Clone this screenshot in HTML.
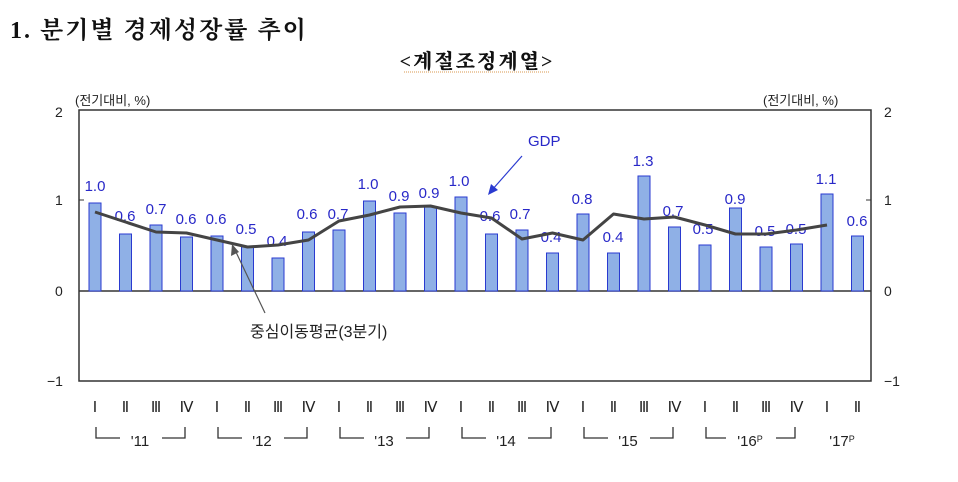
<!DOCTYPE html>
<html><head><meta charset="utf-8"><style>
body{margin:0;background:#fff;width:958px;height:482px;overflow:hidden}
svg{display:block}
.lb{font-family:"Liberation Sans","Noto Sans CJK KR",sans-serif;font-size:15px;fill:#2828c8;text-anchor:middle}
.tk{font-family:"Liberation Sans",sans-serif;font-size:14px;fill:#222}
.rn{font-family:"Liberation Serif",serif;font-size:15px;fill:#222;text-anchor:middle}
.yr{font-family:"Liberation Sans",sans-serif;font-size:15px;fill:#222;text-anchor:middle}
.kr{font-family:"Liberation Sans","Noto Sans CJK KR",sans-serif;fill:#222}
</style></head><body>
<svg width="958" height="482" viewBox="0 0 958 482" xmlns="http://www.w3.org/2000/svg">
<text x="10" y="38" font-family="'Liberation Serif','Noto Serif CJK SC',serif" font-weight="bold" font-size="24" letter-spacing="2" fill="#111">1. 분기별 경제성장률 추이</text>
<text x="477" y="68" text-anchor="middle" font-family="'Liberation Serif','Noto Serif CJK SC',serif" font-weight="900" font-size="20" letter-spacing="2" fill="#111">&lt;계절조정계열&gt;</text>
<line x1="404" y1="72" x2="550" y2="72" stroke="#d89a50" stroke-width="1" stroke-dasharray="1,1"/>
<text class="kr" x="75" y="105" font-size="13">(전기대비, %)</text>
<text class="kr" x="763" y="105" font-size="13">(전기대비, %)</text>
<rect x="79" y="110" width="792" height="271" fill="none" stroke="#333" stroke-width="1.5"/>
<line x1="79" y1="291" x2="871" y2="291" stroke="#333" stroke-width="1.5"/>
<line x1="79" y1="200" x2="84" y2="200" stroke="#333"/><line x1="866" y1="200" x2="871" y2="200" stroke="#333"/>
<text class="tk" x="55" y="117">2</text><text class="tk" x="55" y="205">1</text><text class="tk" x="55" y="296">0</text><text class="tk" x="47" y="386">−1</text>
<text class="tk" x="884" y="117">2</text><text class="tk" x="884" y="205">1</text><text class="tk" x="884" y="296">0</text><text class="tk" x="884" y="386">−1</text>
<g fill="#8fb0e6" stroke="#2a3ad0" stroke-width="1">
<rect x="89" y="203" width="12" height="88"/><rect x="119.5" y="234" width="12" height="57"/><rect x="150" y="225" width="12" height="66"/><rect x="180.5" y="237" width="12" height="54"/>
<rect x="211" y="236" width="12" height="55"/><rect x="241.5" y="247" width="12" height="44"/><rect x="272" y="258" width="12" height="33"/><rect x="302.5" y="232" width="12" height="59"/>
<rect x="333" y="230" width="12" height="61"/><rect x="363.5" y="201" width="12" height="90"/><rect x="394" y="213" width="12" height="78"/><rect x="424.5" y="207" width="12" height="84"/>
<rect x="455" y="197" width="12" height="94"/><rect x="485.5" y="234" width="12" height="57"/><rect x="516" y="230" width="12" height="61"/><rect x="546.5" y="253" width="12" height="38"/>
<rect x="577" y="214" width="12" height="77"/><rect x="607.5" y="253" width="12" height="38"/><rect x="638" y="176" width="12" height="115"/><rect x="668.5" y="227" width="12" height="64"/>
<rect x="699" y="245" width="12" height="46"/><rect x="729.5" y="208" width="12" height="83"/><rect x="760" y="247" width="12" height="44"/><rect x="790.5" y="244" width="12" height="47"/>
<rect x="821" y="194" width="12" height="97"/><rect x="851.5" y="236" width="12" height="55"/>
</g>
<g class="lb">
<text x="95" y="191">1.0</text><text x="125" y="221">0.6</text><text x="156" y="214">0.7</text><text x="186" y="224">0.6</text>
<text x="216" y="224">0.6</text><text x="246" y="234">0.5</text><text x="277" y="246">0.4</text><text x="307" y="219">0.6</text>
<text x="338" y="219">0.7</text><text x="368" y="189">1.0</text><text x="399" y="201">0.9</text><text x="429" y="198">0.9</text>
<text x="459" y="186">1.0</text><text x="490" y="221">0.6</text><text x="520" y="219">0.7</text><text x="551" y="242">0.4</text>
<text x="582" y="204">0.8</text><text x="613" y="242">0.4</text><text x="643" y="166">1.3</text><text x="673" y="216">0.7</text>
<text x="703" y="234">0.5</text><text x="735" y="204">0.9</text><text x="765" y="236">0.5</text><text x="796" y="234">0.5</text>
<text x="826" y="184">1.1</text><text x="857" y="226">0.6</text>
</g>
<polyline fill="none" stroke="#444" stroke-width="3" stroke-linejoin="round" points="95,212 125.5,222 156,232 186.5,233 217,240 247.5,247 278,245 308.5,240 339,221 369.5,215 400,207 430.5,206 461,213 491.5,218 522,239 552.5,233 583,240 613.5,214 644,219 674.5,217 705,225 735.5,234 766,234 796.5,230 827,225"/>
<text x="528" y="146" class="lb" style="text-anchor:start" font-size="16">GDP</text>
<line x1="522" y1="156" x2="492" y2="190" stroke="#2a3ad0" stroke-width="1.2"/>
<polygon points="488,195 491,184 498,190" fill="#2a3ad0"/>
<text class="kr" x="250" y="337" font-size="16">중심이동평균(3분기)</text>
<line x1="265" y1="313" x2="235" y2="250" stroke="#555" stroke-width="1.2"/>
<polygon points="232,244 231,256 239,252" fill="#555"/>
<g class="rn">
<text x="95" y="412">Ⅰ</text><text x="125.5" y="412">Ⅱ</text><text x="156" y="412">Ⅲ</text><text x="186.5" y="412">Ⅳ</text>
<text x="217" y="412">Ⅰ</text><text x="247.5" y="412">Ⅱ</text><text x="278" y="412">Ⅲ</text><text x="308.5" y="412">Ⅳ</text>
<text x="339" y="412">Ⅰ</text><text x="369.5" y="412">Ⅱ</text><text x="400" y="412">Ⅲ</text><text x="430.5" y="412">Ⅳ</text>
<text x="461" y="412">Ⅰ</text><text x="491.5" y="412">Ⅱ</text><text x="522" y="412">Ⅲ</text><text x="552.5" y="412">Ⅳ</text>
<text x="583" y="412">Ⅰ</text><text x="613.5" y="412">Ⅱ</text><text x="644" y="412">Ⅲ</text><text x="674.5" y="412">Ⅳ</text>
<text x="705" y="412">Ⅰ</text><text x="735.5" y="412">Ⅱ</text><text x="766" y="412">Ⅲ</text><text x="796.5" y="412">Ⅳ</text>
<text x="827" y="412">Ⅰ</text><text x="857.5" y="412">Ⅱ</text>
</g>
<g fill="none" stroke="#333" stroke-width="1.3">
<polyline points="96,427 96,438 120,438"/><polyline points="162,438 185,438 185,427"/>
<polyline points="218,427 218,438 242,438"/><polyline points="284,438 307,438 307,427"/>
<polyline points="340,427 340,438 364,438"/><polyline points="406,438 429,438 429,427"/>
<polyline points="462,427 462,438 486,438"/><polyline points="528,438 551,438 551,427"/>
<polyline points="584,427 584,438 608,438"/><polyline points="650,438 673,438 673,427"/>
<polyline points="706,427 706,438 726,438"/><polyline points="776,438 795,438 795,427"/>
</g>
<g class="yr">
<text x="140" y="446">'11</text><text x="262" y="446">'12</text><text x="384" y="446">'13</text><text x="506" y="446">'14</text><text x="628" y="446">'15</text><text x="750" y="446">'16<tspan font-size="9" dy="-4">P</tspan></text>
</g>
<text class="yr" x="842" y="446">'17<tspan font-size="9" dy="-4">P</tspan></text>
</svg>
</body></html>
